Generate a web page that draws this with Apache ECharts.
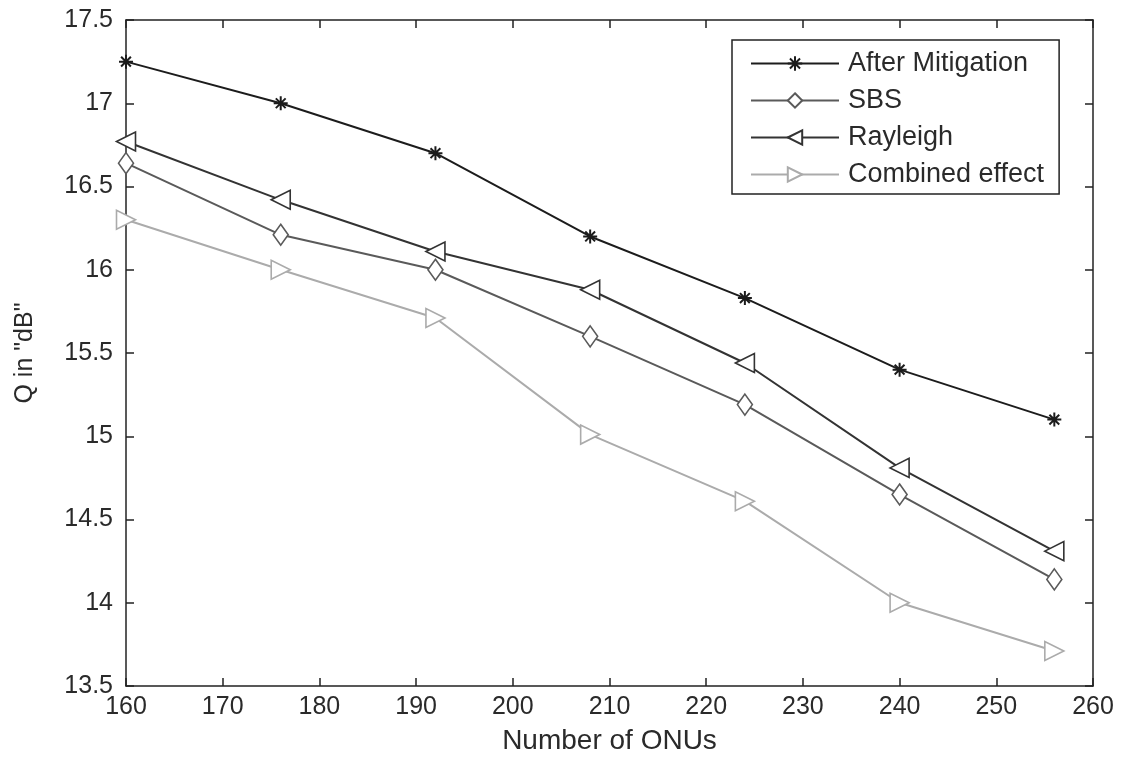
<!DOCTYPE html>
<html>
<head>
<meta charset="utf-8">
<script src="https://cdn.jsdelivr.net/npm/echarts@6/dist/echarts.min.js"></script>
<style>
html,body{margin:0;padding:0;background:#fff;}
#chart{width:1128px;height:760px;}
</style>
</head>
<body>
<div id="chart"></div>
<script>
var onus = [160, 176, 192, 208, 224, 240, 256];
var afterMitigation = [17.25, 17.0, 16.7, 16.2, 15.83, 15.4, 15.1];
var sbs = [16.64, 16.21, 16.0, 15.6, 15.19, 14.65, 14.14];
var rayleigh = [16.77, 16.42, 16.11, 15.88, 15.44, 14.81, 14.31];
var combined = [16.3, 16.0, 15.71, 15.01, 14.61, 14.0, 13.71];
var seriesNames = ['After Mitigation', 'SBS', 'Rayleigh', 'Combined effect'];

function pairs(ys){ return onus.map(function(x,i){ return [x, ys[i]]; }); }

var FONT = 'Liberation Sans, Arial, sans-serif';
var TXT = '#2a2a2a';
var AX = '#222';

function mkSeries(name, ys, color, symbol, size, bw){
  return {
    name: name, type: 'line', data: pairs(ys),
    symbol: symbol, symbolSize: size, showAllSymbol: true,
    lineStyle: {color: color, width: 2},
    itemStyle: {color: '#fff', borderColor: color, borderWidth: bw || 1.6},
    emphasis: {disabled: true}, animation: false, z: 3
  };
}

var star = 'path://M0,-10L0,10M-10,0L10,0M-7,-7L7,7M-7,7L7,-7';
var leftTri = 'path://M0,0L20,-10L20,10Z';
var rightTri = 'path://M20,0L0,-10L0,10Z';

var chart = echarts.init(document.getElementById('chart'));
var axisCommon = {
  axisLine: {show: true, lineStyle: {color: AX, width: 1.5}},
  axisTick: {show: true, inside: true, length: 8, lineStyle: {color: AX, width: 1.5}},
  splitLine: {show: false}
};
chart.setOption({
  backgroundColor: '#fff',
  animation: false,
  grid: {left: 126, top: 20, right: 35, bottom: 73},
  legend: {
    left: 732, top: 40,
    orient: 'vertical',
    data: seriesNames,
    itemWidth: 88, itemHeight: 18, itemGap: 10,
    padding: [10, 15, 6, 18],
    borderColor: '#222', borderWidth: 1.5, borderRadius: 0,
    backgroundColor: '#fff',
    textStyle: {fontFamily: FONT, fontSize: 27, color: TXT, lineHeight: 27, padding: [0,0,0,4]}
  },
  xAxis: [
    Object.assign({
      type: 'value', min: 160, max: 260, interval: 10, position: 'bottom',
      name: 'Number of ONUs', nameLocation: 'middle', nameGap: 41,
      nameTextStyle: {fontFamily: FONT, fontSize: 28, color: TXT},
      axisLabel: {fontFamily: FONT, fontSize: 25, color: TXT, margin: 9}
    }, axisCommon),
    Object.assign({
      type: 'value', min: 160, max: 260, interval: 10, position: 'top',
      axisLabel: {show: false}
    }, axisCommon)
  ],
  yAxis: [
    Object.assign({
      type: 'value', min: 13.5, max: 17.5, interval: 0.5, position: 'left',
      name: 'Q in "dB"', nameLocation: 'middle', nameGap: 88,
      nameTextStyle: {fontFamily: FONT, fontSize: 25, color: TXT},
      axisLabel: {fontFamily: FONT, fontSize: 25, color: TXT, margin: 13}
    }, axisCommon),
    Object.assign({
      type: 'value', min: 13.5, max: 17.5, interval: 0.5, position: 'right',
      axisLabel: {show: false}
    }, axisCommon)
  ],
  series: [
    mkSeries(seriesNames[0], afterMitigation, '#1c1c1c', star, 14, 2),
    mkSeries(seriesNames[1], sbs, '#5a5a5a', 'diamond', [15, 21]),
    mkSeries(seriesNames[2], rayleigh, '#333333', leftTri, 19),
    mkSeries(seriesNames[3], combined, '#ababab', rightTri, 19)
  ]
});
</script>
</body>
</html>
